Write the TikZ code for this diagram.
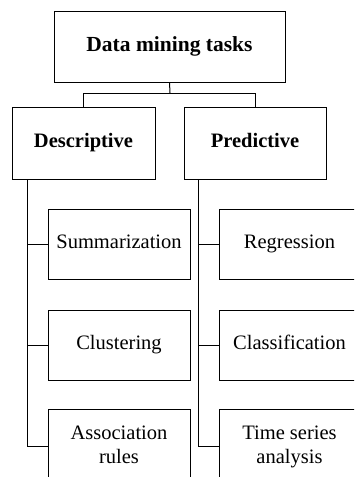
\documentclass[tikz,border=0pt]{standalone}
\usepackage{fontspec}
\setmainfont{Liberation Serif}
\begin{document}
\begin{tikzpicture}[x=1pt,y=-1pt,
  box/.style={draw,line width=1pt,inner sep=0pt,align=center,text height=14pt,text depth=4.5pt,font=\fontsize{20.5}{24}\selectfont},
  twoline/.style={text height=38pt,text depth=0pt},
  link/.style={line width=1pt}]
\clip (0,0) rectangle (354,477);
\fill[white] (0,0) rectangle (354,477);
\node[box,minimum width=231,minimum height=71,font=\fontsize{21.5}{24}\selectfont\bfseries] (top) at (169.5,46.5) {Data mining tasks};
\node[box,minimum width=143,minimum height=72,font=\fontsize{20.5}{24}\selectfont\bfseries] (desc) at (83.5,143) {Descriptive};
\node[box,minimum width=142,minimum height=72,font=\fontsize{20.5}{24}\selectfont\bfseries] (pred) at (255,143) {Predictive};
\node[box,minimum width=142,minimum height=70] (summ) at (119,244) {Summarization};
\node[box,minimum width=142,minimum height=70] (clus) at (119,345) {Clustering};
\node[box,twoline,minimum width=142,minimum height=70] (asso) at (119,444) {Association\\rules};
\node[box,minimum width=141,minimum height=70] (regr) at (289.5,244) {Regression};
\node[box,minimum width=141,minimum height=70] (clas) at (289.5,345) {Classification};
\node[box,twoline,minimum width=141,minimum height=70] (time) at (289.5,444) {Time series\\analysis};
% top connector
\coordinate (mid) at (170,93);
\draw[link] (top.south) -- (mid);
\draw[link] (mid) -| (desc.north);
\draw[link] (mid) -| (pred.north);
% left spine
\coordinate (ls) at (27,179);
\coordinate (le) at (27,446);
\draw[link] (ls) -- (le) -- (le -| asso.west);
\draw[link] (ls |- summ.west) -- (summ.west);
\draw[link] (ls |- clus.west) -- (clus.west);
% right spine
\coordinate (rs) at (198,179);
\coordinate (re) at (198,446);
\draw[link] (rs) -- (re) -- (re -| time.west);
\draw[link] (rs |- regr.west) -- (regr.west);
\draw[link] (rs |- clas.west) -- (clas.west);
\end{tikzpicture}
\end{document}
